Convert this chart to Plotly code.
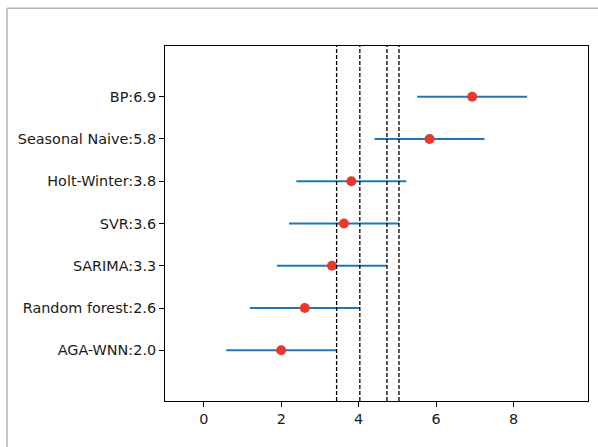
import plotly.graph_objects as go

models = ["AGA-WNN", "Random forest", "SARIMA", "SVR", "Holt-Winter", "Seasonal Naive", "BP"]
mean_rank = [2.00, 2.61, 3.31, 3.62, 3.81, 5.83, 6.93]
label_values = ["2.0", "2.6", "3.3", "3.6", "3.8", "5.8", "6.9"]
half_cd = 1.42
threshold_lines = [3.43, 4.03, 4.73, 5.04]
x_ticks = [0, 2, 4, 6, 8]

labels = [f"{m}:{v}" for m, v in zip(models, label_values)]
ypos = list(range(len(models)))

fig = go.Figure()

for t in threshold_lines:
    fig.add_shape(type="line", xref="x", yref="paper", x0=t, x1=t, y0=0, y1=1,
                  line=dict(color="black", width=1.3, dash="4px,2px"), layer="above")

fig.add_trace(go.Scatter(
    x=mean_rank, y=ypos, mode="markers",
    marker=dict(color="#e8392b", size=10, line=dict(width=0)),
    error_x=dict(type="constant", value=half_cd, color="#1f77b4", thickness=2, width=0),
    showlegend=False, hoverinfo="x+y",
))

fs = 14.4
fig.update_xaxes(range=[-1.0, 9.92], tickvals=x_ticks, ticks="outside", ticklen=5,
                 tickcolor="black", showline=True, linecolor="black", linewidth=1,
                 mirror=True, showgrid=False, zeroline=False,
                 tickfont=dict(family="DejaVu Sans", size=fs, color="#1a1a1a"))
fig.update_yaxes(range=[-1.2, 7.2], tickvals=ypos, ticktext=labels, ticks="outside",
                 ticklen=5, tickcolor="black", showline=True, linecolor="black",
                 linewidth=1, mirror=True, showgrid=False, zeroline=False,
                 tickfont=dict(family="DejaVu Sans", size=fs, color="#1a1a1a"))

# outer frame (cropped figure border)
fig.add_shape(type="line", xref="paper", yref="paper", x0=(7-165)/423, x1=(600-165)/423,
              y0=1 + (45.7-8)/355, y1=1 + (45.7-8)/355,
              line=dict(color="#b4b4b4", width=1.5))
fig.add_shape(type="line", xref="paper", yref="paper", x0=(7-165)/423, x1=(7-165)/423,
              y0=1 + (45.7-8)/355, y1=-(460-400.7)/355,
              line=dict(color="#b4b4b4", width=1.5))

fig.update_layout(
    width=598, height=447,
    margin=dict(l=165, r=10, t=46, b=46),
    paper_bgcolor="white", plot_bgcolor="white",
    font=dict(family="DejaVu Sans", size=fs, color="#1a1a1a"),
)

fig.write_html("out.html")
